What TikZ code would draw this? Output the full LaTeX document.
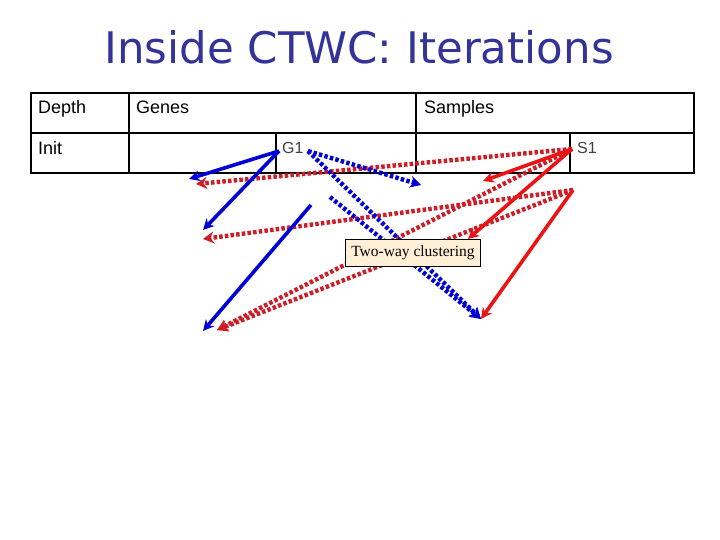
\documentclass[tikz,border=0pt]{standalone}
\usepackage{fontspec}
\setmainfont{Liberation Serif}
\setsansfont{Liberation Sans}
\newfontfamily\titlefont{DejaVu Sans}
\usetikzlibrary{arrows.meta,positioning}
\definecolor{titleblue}{RGB}{51,51,153}
\definecolor{geneblue}{RGB}{0,0,215}
\definecolor{samplered}{RGB}{235,20,20}
\definecolor{dotred}{RGB}{205,30,40}
\definecolor{tagfill}{RGB}{255,240,215}

\begin{document}
\begin{tikzpicture}[
            x=1pt, y=-1pt,
            font=\sffamily,
            title/.style={font=\titlefont\fontsize{43.5}{45}\selectfont, text=titleblue, anchor=base},
            cell/.style={font=\sffamily\fontsize{18}{19}\selectfont, anchor=base west, inner sep=0pt},
            tag/.style={font=\sffamily\fontsize{16}{17}\selectfont, text=black!75, anchor=base west, inner sep=0pt},
            grid/.style={line width=2.6pt, black},
            clusterbox/.style={rectangle, draw=black, line width=0.7pt, fill=tagfill, font=\rmfamily\fontsize{15.5}{17}\selectfont, inner xsep=6pt, minimum height=27pt},
            genearrow/.style={line width=3.6pt, geneblue, -{Stealth[length=11pt,width=11pt]}},
            genedots/.style={line width=4.4pt, geneblue, dash pattern=on 3.5pt off 2.2pt, -{Stealth[length=11pt,width=12pt]}},
            samplearrow/.style={line width=3.6pt, samplered, -{Stealth[length=11pt,width=11pt]}},
            sampledots/.style={line width=4.4pt, dotred, dash pattern=on 3.5pt off 2.2pt, -{Stealth[length=11pt,width=12pt]}}
        ]
        \useasboundingbox (0,0) rectangle (720,540);

        % Titolo
        \node (title) [title] at (359,64) {Inside CTWC: Iterations};

        % Tabella
        \draw [grid] (31,93) rectangle (694,173);
        \draw [grid] (31,133) -- (694,133);
        \draw [grid] (129,93) -- (129,173);
        \draw [grid] (416,93) -- (416,173);
        \draw [grid] (276,133) -- (276,173);
        \draw [grid] (570,133) -- (570,173);

        \node (depth) [cell] at (38,114) {Depth};
        \node (genes) [cell] at (136,114) {Genes};
        \node (samples) [cell] at (424,114) {Samples};
        \node (init) [cell] at (38,155) {Init};
        \node (g1) [tag] at (282,154) {G1};
        \node (s1) [tag] at (577,154) {S1};

        % Punti delle frecce
        \coordinate (g1a) at (279,151);
        \coordinate (g1b) at (308,151);
        \coordinate (s1a) at (572,149);
        \coordinate (s1b) at (573,190);
        \coordinate (gfree) at (311,205);
        \coordinate (gdots) at (330,197);
        \coordinate (left1) at (189,179);
        \coordinate (left2) at (203,230);
        \coordinate (left3) at (203,331);
        \coordinate (rdleft1) at (196,184);
        \coordinate (rdleft2) at (203,239);
        \coordinate (rdleft3) at (217,330);
        \coordinate (mid1) at (421,185);
        \coordinate (low) at (481,319);
        \coordinate (mid2) at (483,181);
        \coordinate (mid3) at (468,239);

        % Frecce rosse
        \draw [sampledots] (s1a) -- (rdleft1);
        \draw [sampledots] (s1b) -- (rdleft2);
        \draw [sampledots] (s1a) -- (rdleft3);
        \draw [sampledots] (s1b) -- (rdleft3);
        \draw [samplearrow] (s1a) -- (mid2);
        \draw [samplearrow] (s1a) -- (mid3);
        \draw [samplearrow] (s1b) -- (low);

        % Frecce blu
        \draw [genearrow] (g1a) -- (left1);
        \draw [genearrow] (g1a) -- (left2);
        \draw [genearrow] (gfree) -- (left3);
        \draw [genedots] (g1b) -- (mid1);
        \draw [genedots] (g1b) -- (low);
        \draw [genedots] (gdots) -- (low);

        % Etichetta
        \node (twoway) [clusterbox] at (413,253) {Two-way clustering};

    \end{tikzpicture}
\end{document}
